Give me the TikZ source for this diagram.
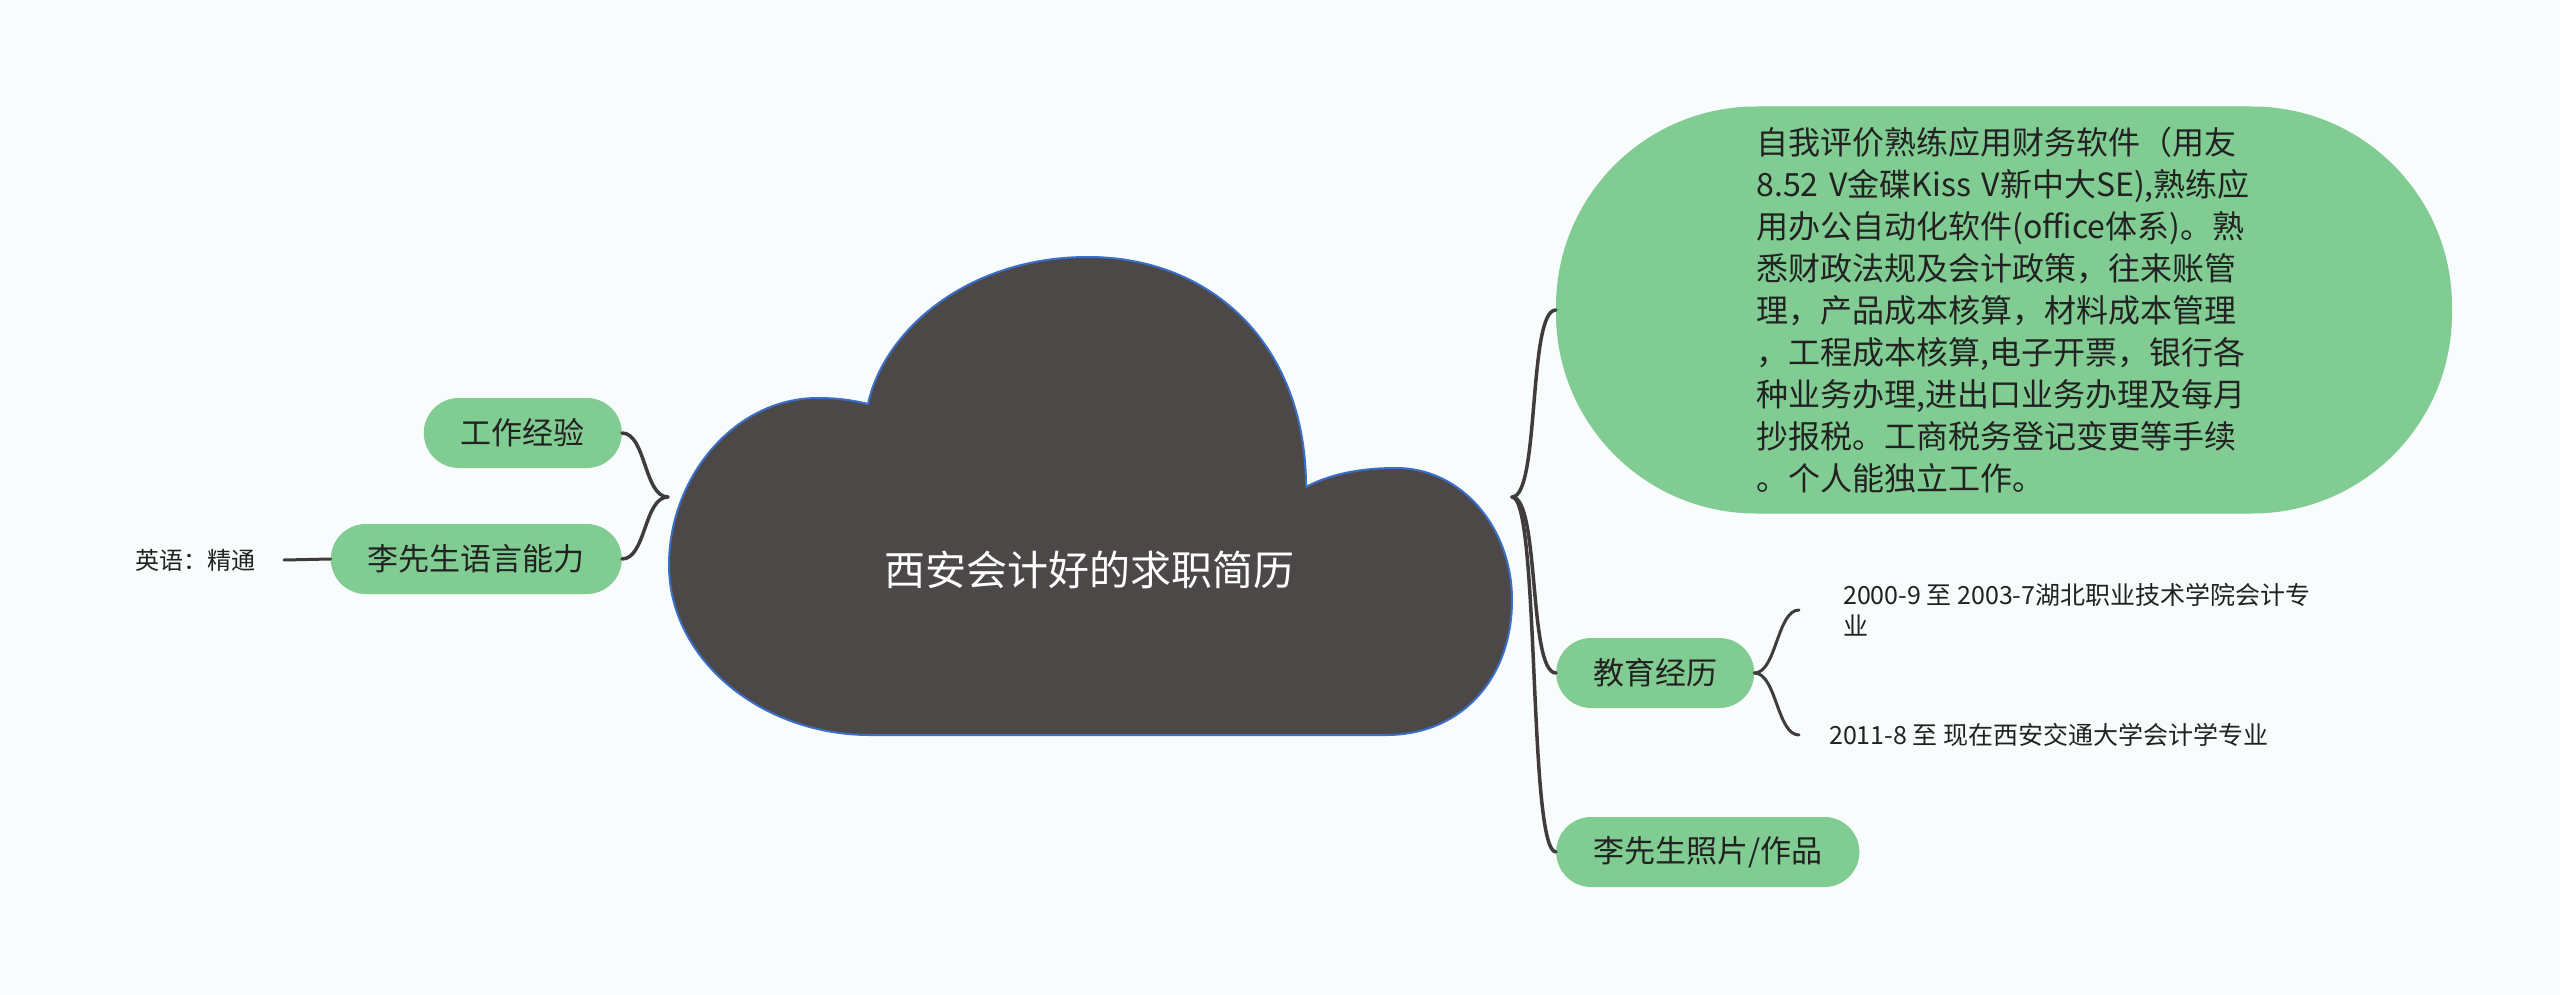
\documentclass[tikz,border=0pt]{standalone}
\usepackage{fontspec}
\setmainfont{Noto Sans CJK SC}
\usepackage{xcolor}
\definecolor{bgpaper}{RGB}{248,252,252}
\definecolor{leafgreen}{RGB}{128,204,146}
\definecolor{cloudgray}{RGB}{77,72,72}
\definecolor{cloudblue}{RGB}{58,110,200}
\definecolor{linkgray}{RGB}{64,60,60}
\definecolor{inkdark}{RGB}{34,34,34}

\begin{document}
\begin{tikzpicture}[x=1pt,y=-1pt,line cap=round,line join=round,
  topic/.style={fill=leafgreen,text=inkdark,rounded corners=35pt,minimum height=70pt,
    inner xsep=37pt,font=\fontsize{31}{36}\selectfont},
  leaf/.style={inner ysep=0pt,text=inkdark,align=left,font=\fontsize{25}{31}\selectfont},
  link/.style={draw=linkgray,line width=3.5pt}]
  \path[use as bounding box,fill=bgpaper] (0,0) rectangle (2560,995);

  % central cloud
  \draw[fill=cloudgray,draw=cloudblue,line width=2pt] (870,735) -- (1386,735)
    .. controls (1462,735) and (1512,678) .. (1512,600)
    .. controls (1512,528) and (1462,468) .. (1396,468)
    .. controls (1356,468) and (1326,476) .. (1306,487)
    .. controls (1306,345) and (1212,257) .. (1088,257)
    .. controls (968,257) and (884,330) .. (868,404)
    .. controls (852,400) and (836,398) .. (818,398)
    .. controls (734,398) and (669,478) .. (669,565)
    .. controls (669,660) and (762,735) .. (870,735) -- cycle;
  \node[text=white,font=\fontsize{41}{48}\selectfont] (title) at (1089,570) {西安会计好的求职简历};
  \coordinate (hubL) at (668,497);
  \coordinate (hubR) at (1512,497);

  % left side
  \node[topic,anchor=east] (work) at (622,433) {工作经验};
  \node[topic,anchor=east] (lang) at (622,559) {李先生语言能力};
  \node[leaf,anchor=east,inner xsep=28pt,font=\fontsize{24}{31}\selectfont] (english) at (284,560) {英语：精通};

  % right side
  \node[topic,text width=495pt,minimum width=896pt,minimum height=407pt,rounded corners=200pt,
    align=left,font=\fontsize{32}{42}\selectfont] (self) at (2004,310)
    {自我评价熟练应用财务软件（用友\\8.52 V金碟Kiss V新中大SE),熟练应\\用办公自动化软件(office体系)。熟\\悉财政法规及会计政策，往来账管\\理，产品成本核算，材料成本管理\\，工程成本核算,电子开票，银行各\\种业务办理,进出口业务办理及每月\\抄报税。工商税务登记变更等手续\\。个人能独立工作。};
  \node[topic,anchor=west] (edu) at (1556,673) {教育经历};
  \node[topic,anchor=west] (photo) at (1556,852) {李先生照片/作品};
  \node[leaf,anchor=west,inner xsep=44pt] (edu1) at (1799,610) {2000-9 至 2003-7湖北职业技术学院会计专\\业};
  \node[leaf,anchor=west,inner xsep=30pt] (edu2) at (1799,735) {2011-8 至 现在西安交通大学会计学专业};

  % connectors
  \foreach \n in {self,edu,photo}
    \draw[link] (hubR) .. controls +(28,0) and +(-28,0) .. (\n.west);
  \foreach \n in {work,lang}
    \draw[link] (hubL) .. controls +(-24,0) and +(24,0) .. (\n.east);
  \foreach \n in {edu1,edu2}
    \draw[link,line width=3pt] (edu.east) .. controls +(22,0) and +(-22,0) .. (\n.west);
  \draw[link,line width=3pt] (english.east) -- (lang.west);
\end{tikzpicture}
\end{document}
